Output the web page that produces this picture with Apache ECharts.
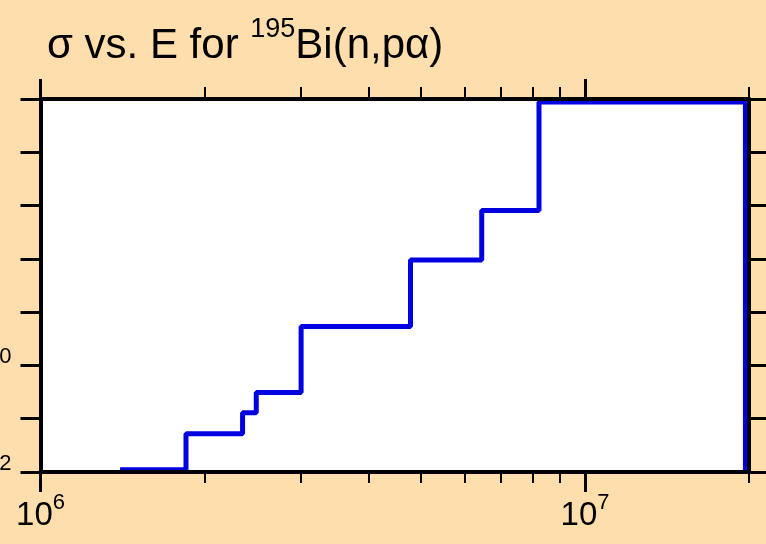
<!DOCTYPE html>
<html><head><meta charset="utf-8">
<script src="https://cdn.jsdelivr.net/npm/echarts@6/dist/echarts.min.js"></script>
<style>html,body{margin:0;padding:0;background:#FFDEAD;} #c{width:766px;height:544px;}</style>
</head><body><div id="c"></div>
<script>
// Energy group boundaries (eV) and group cross sections
const binEdges = [1.4e6, 1.85e6, 2.35e6, 2.49e6, 3.01e6, 4.78e6, 6.46e6, 8.23e6, 1.97e7];
const binValues = [0.011, 0.052, 0.13, 0.31, 5.4, 95, 805, 8.8e4];
const baseline = 0.01;
const xMajorTicks = [1e6, 1e7];
const xMinorTicks = [2e6, 3e6, 4e6, 5e6, 6e6, 7e6, 8e6, 9e6, 2e7];
const yTicks = [1e-2, 1e-1, 1, 10, 100, 1e3, 1e4, 1e5];
const yLabelValues = [1e-2, 1];
const xRange = [1e6, 2e7];
const yRange = [1e-2, 1e5];

const points = binEdges.slice(0, binValues.length).map((e, i) => [e, binValues[i]]);
points.push([binEdges[binEdges.length - 1], baseline]);

const FONT = 'Liberation Sans';
function powLabel(v) {
  return '{b|10}{s|' + Math.round(Math.log10(v)) + '}';
}
const xRich = {
  b: {fontSize: 33, fontFamily: FONT, color: '#000', padding: [7, 0, 0, 0]},
  s: {fontSize: 22, fontFamily: FONT, color: '#000', verticalAlign: 'top'}
};
const yRich = {
  b: {fontSize: 33, fontFamily: FONT, color: '#000', padding: [6, 0, 0, 0]},
  s: {fontSize: 22, fontFamily: FONT, color: '#000', verticalAlign: 'top'}
};

const chart = echarts.init(document.getElementById('c'), null, {renderer: 'canvas'});
const gridPos = {left: 40.5, right: 17, top: 99, bottom: 72};
const tickStyleMajor = {color: '#000', width: 3};
const tickStyleMinor = {color: '#000', width: 2};

chart.setOption({
  backgroundColor: '#FFDEAD',
  animation: false,
  title: {
    text: '{a|σ vs. E for }{s|195}{a|Bi(n,pα)}',
    left: 42, top: 11,
    textStyle: {
      fontWeight: 'normal',
      rich: {
        a: {fontSize: 42, fontFamily: FONT, fontWeight: 'normal', color: '#000', padding: [9, 0, 0, 0]},
        s: {fontSize: 27, fontFamily: FONT, fontWeight: 'normal', color: '#000', verticalAlign: 'top'}
      }
    }
  },
  grid: [
    Object.assign({show: true, backgroundColor: '#fff', borderWidth: 0, outerBoundsMode: 'none'}, gridPos),
    Object.assign({show: false, outerBoundsMode: 'none'}, gridPos)
  ],
  xAxis: [
    {type: 'log', gridIndex: 0, position: 'bottom', min: xRange[0], max: xRange[1], z: 10,
     axisLine: {show: true, lineStyle: {color: '#000', width: 4}},
     axisTick: {show: true, length: 20, lineStyle: tickStyleMajor, customValues: xMajorTicks},
     axisLabel: {show: true, customValues: xMajorTicks, margin: 20, formatter: powLabel, rich: xRich},
     splitLine: {show: false}},
    {type: 'log', gridIndex: 0, position: 'top', min: xRange[0], max: xRange[1], z: 10,
     axisLine: {show: true, lineStyle: {color: '#000', width: 4}},
     axisTick: {show: true, length: 20, lineStyle: tickStyleMajor, customValues: xMajorTicks},
     axisLabel: {show: false}, splitLine: {show: false}},
    {type: 'log', gridIndex: 1, position: 'bottom', min: xRange[0], max: xRange[1], z: 10,
     axisLine: {show: false},
     axisTick: {show: true, length: 11, lineStyle: tickStyleMinor, customValues: xMinorTicks},
     axisLabel: {show: false}, splitLine: {show: false}},
    {type: 'log', gridIndex: 1, position: 'top', min: xRange[0], max: xRange[1], z: 10,
     axisLine: {show: false},
     axisTick: {show: true, length: 12, lineStyle: tickStyleMinor, customValues: xMinorTicks},
     axisLabel: {show: false}, splitLine: {show: false}}
  ],
  yAxis: [
    {type: 'log', gridIndex: 0, position: 'left', min: yRange[0], max: yRange[1], z: 10,
     axisLine: {show: true, lineStyle: {color: '#000', width: 4}},
     axisTick: {show: true, length: 20, lineStyle: tickStyleMajor, customValues: yTicks},
     axisLabel: {show: true, customValues: yLabelValues, margin: 29, formatter: powLabel, rich: yRich},
     splitLine: {show: false}},
    {type: 'log', gridIndex: 0, position: 'right', min: yRange[0], max: yRange[1], z: 10,
     axisLine: {show: true, lineStyle: {color: '#000', width: 4}},
     axisTick: {show: true, length: 20, lineStyle: tickStyleMajor, customValues: yTicks},
     axisLabel: {show: false}, splitLine: {show: false}},
    {type: 'log', gridIndex: 1, min: yRange[0], max: yRange[1], show: false}
  ],
  series: [{
    type: 'line', xAxisIndex: 0, yAxisIndex: 0, step: 'end',
    data: points, showSymbol: false, symbol: 'none', clip: true,
    lineStyle: {color: '#0000E0', width: 5}
  }]
});
</script></body></html>
